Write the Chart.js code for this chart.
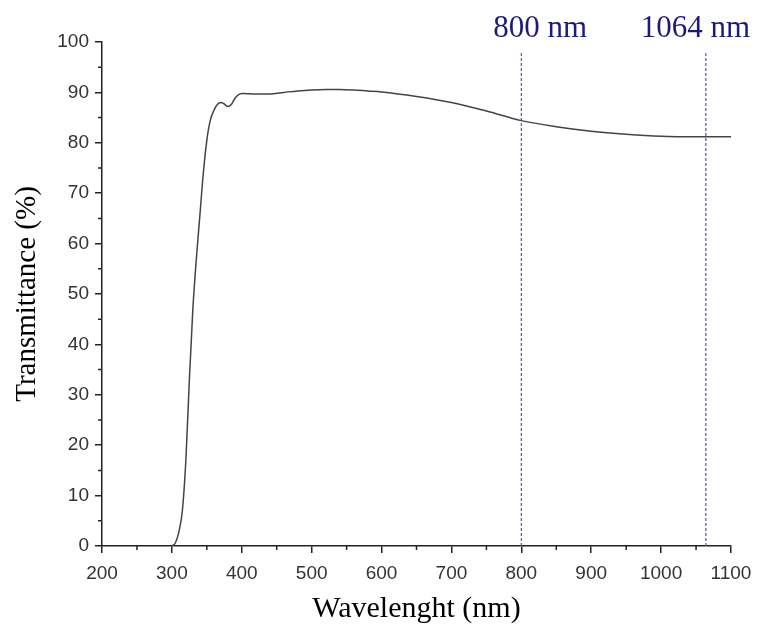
<!DOCTYPE html>
<html>
<head>
<meta charset="utf-8">
<script src="https://cdn.jsdelivr.net/npm/chart.js@4.4.1/dist/chart.umd.min.js"></script>
<style>
  html, body { margin: 0; padding: 0; background: #ffffff; }
  #wrap { width: 758px; height: 629px; position: relative; }
</style>
</head>
<body>
<div id="wrap"><canvas id="c" width="758" height="629"></canvas></div>
<script>
// Wavelength (nm) sample positions along the curve
const wavelengths = [300, 305, 310, 315, 320, 325, 330, 335, 340, 345, 350, 355, 360, 365, 370, 375, 380, 385, 390, 395, 400, 420, 440, 460, 480, 500, 520, 540, 560, 580, 600, 650, 700, 750, 800, 850, 900, 950, 1000, 1050, 1100];
// Transmittance (%) at each wavelength
const transmittance = [0, 0.6, 2.8, 7, 17, 33, 47, 57, 65.5, 74, 80.5, 84.5, 86.4, 87.6, 88, 87.7, 87.2, 87.6, 88.8, 89.5, 89.8, 89.7, 89.7, 90, 90.3, 90.5, 90.6, 90.6, 90.5, 90.3, 90.1, 89.2, 88, 86.3, 84.4, 83.2, 82.3, 81.7, 81.3, 81.2, 81.2];
// Marked laser wavelengths
const markers = [800, 1064];
const markerLabels = ['800 nm', '1064 nm'];
const markerTop = 98;
// Axis ticks
const xTicks = [200, 300, 400, 500, 600, 700, 800, 900, 1000, 1100];
const yTicks = [0, 10, 20, 30, 40, 50, 60, 70, 80, 90, 100];
const xMinor = [250, 350, 450, 550, 650, 750, 850, 950, 1050];
const yMinor = [5, 15, 25, 35, 45, 55, 65, 75, 85, 95];

const curve = wavelengths.map((w, i) => ({ x: w, y: transmittance[i] }));
const markerSets = markers.map(m => ({
  data: [{ x: m, y: 0 }, { x: m, y: markerTop }],
  borderColor: '#5252c6',
  borderWidth: 1.2,
  borderDash: [3, 2],
  pointRadius: 0,
  fill: false,
  tension: 0
}));

const axisColor = '#222222';
const tickFont = { family: "'Liberation Sans', Arial, sans-serif", size: 19 };
const titleFont = { family: "'Liberation Serif', 'Times New Roman', serif", size: 30 };

const extras = {
  id: 'extras',
  afterDraw(chart) {
    const ctx = chart.ctx;
    const xs = chart.scales.x, ys = chart.scales.y;
    const area = chart.chartArea;
    ctx.save();
    ctx.strokeStyle = axisColor;
    ctx.lineWidth = 1.5;
    ctx.beginPath();
    yMinor.forEach(v => {
      const py = ys.getPixelForValue(v);
      ctx.moveTo(area.left - 4, py);
      ctx.lineTo(area.left, py);
    });
    xMinor.forEach(v => {
      const px = xs.getPixelForValue(v);
      ctx.moveTo(px, area.bottom);
      ctx.lineTo(px, area.bottom + 4);
    });
    ctx.stroke();
    // marker labels
    ctx.fillStyle = '#1c1c78';
    ctx.font = "31px 'Liberation Serif', 'Times New Roman', serif";
    ctx.textBaseline = 'alphabetic';
    const offsets = [-28, -65];
    markers.forEach((m, i) => {
      const px = xs.getPixelForValue(m);
      ctx.textAlign = 'left';
      ctx.fillText(markerLabels[i], px + offsets[i], 37);
    });
    ctx.restore();
  }
};

new Chart(document.getElementById('c'), {
  type: 'line',
  data: {
    datasets: [{
      data: curve,
      borderColor: '#444444',
      borderWidth: 1.5,
      pointRadius: 0,
      fill: false,
      cubicInterpolationMode: 'monotone'
    }, ...markerSets]
  },
  options: {
    responsive: false,
    animation: false,
    devicePixelRatio: 1,
    layout: { padding: { top: 42, right: 27, left: 0, bottom: 0 } },
    plugins: { legend: { display: false }, tooltip: { enabled: false } },
    scales: {
      x: {
        type: 'linear',
        min: 200, max: 1100,
        afterBuildTicks: s => { s.ticks = xTicks.map(v => ({ value: v })); },
        afterFit: s => { s.height = 83; s.paddingLeft = 0; s.paddingRight = 0; },
        ticks: { font: tickFont, color: '#333333', padding: 9, maxRotation: 0, autoSkip: false, callback: v => String(v) },
        grid: { drawOnChartArea: false, drawTicks: true, tickLength: 7, color: axisColor, lineWidth: 1.5 },
        border: { display: true, color: axisColor, width: 1.5 },
        title: { display: true, text: 'Wavelenght (nm)', font: titleFont, color: '#000000', padding: { top: 0, bottom: 2 } }
      },
      y: {
        type: 'linear',
        min: 0, max: 100,
        afterBuildTicks: s => { s.ticks = yTicks.map(v => ({ value: v })); },
        afterFit: s => { s.width = 102; s.paddingTop = 0; s.paddingBottom = 0; },
        ticks: { font: tickFont, color: '#333333', padding: 6, autoSkip: false, callback: v => String(v) },
        grid: { drawOnChartArea: false, drawTicks: true, tickLength: 7, color: axisColor, lineWidth: 1.5 },
        border: { display: true, color: axisColor, width: 1.5 },
        title: { display: true, text: 'Transmittance (%)', font: { family: titleFont.family, size: 29 }, color: '#000000', padding: { top: 10, bottom: 0 } }
      }
    }
  },
  plugins: [extras]
});
</script>
</body>
</html>
